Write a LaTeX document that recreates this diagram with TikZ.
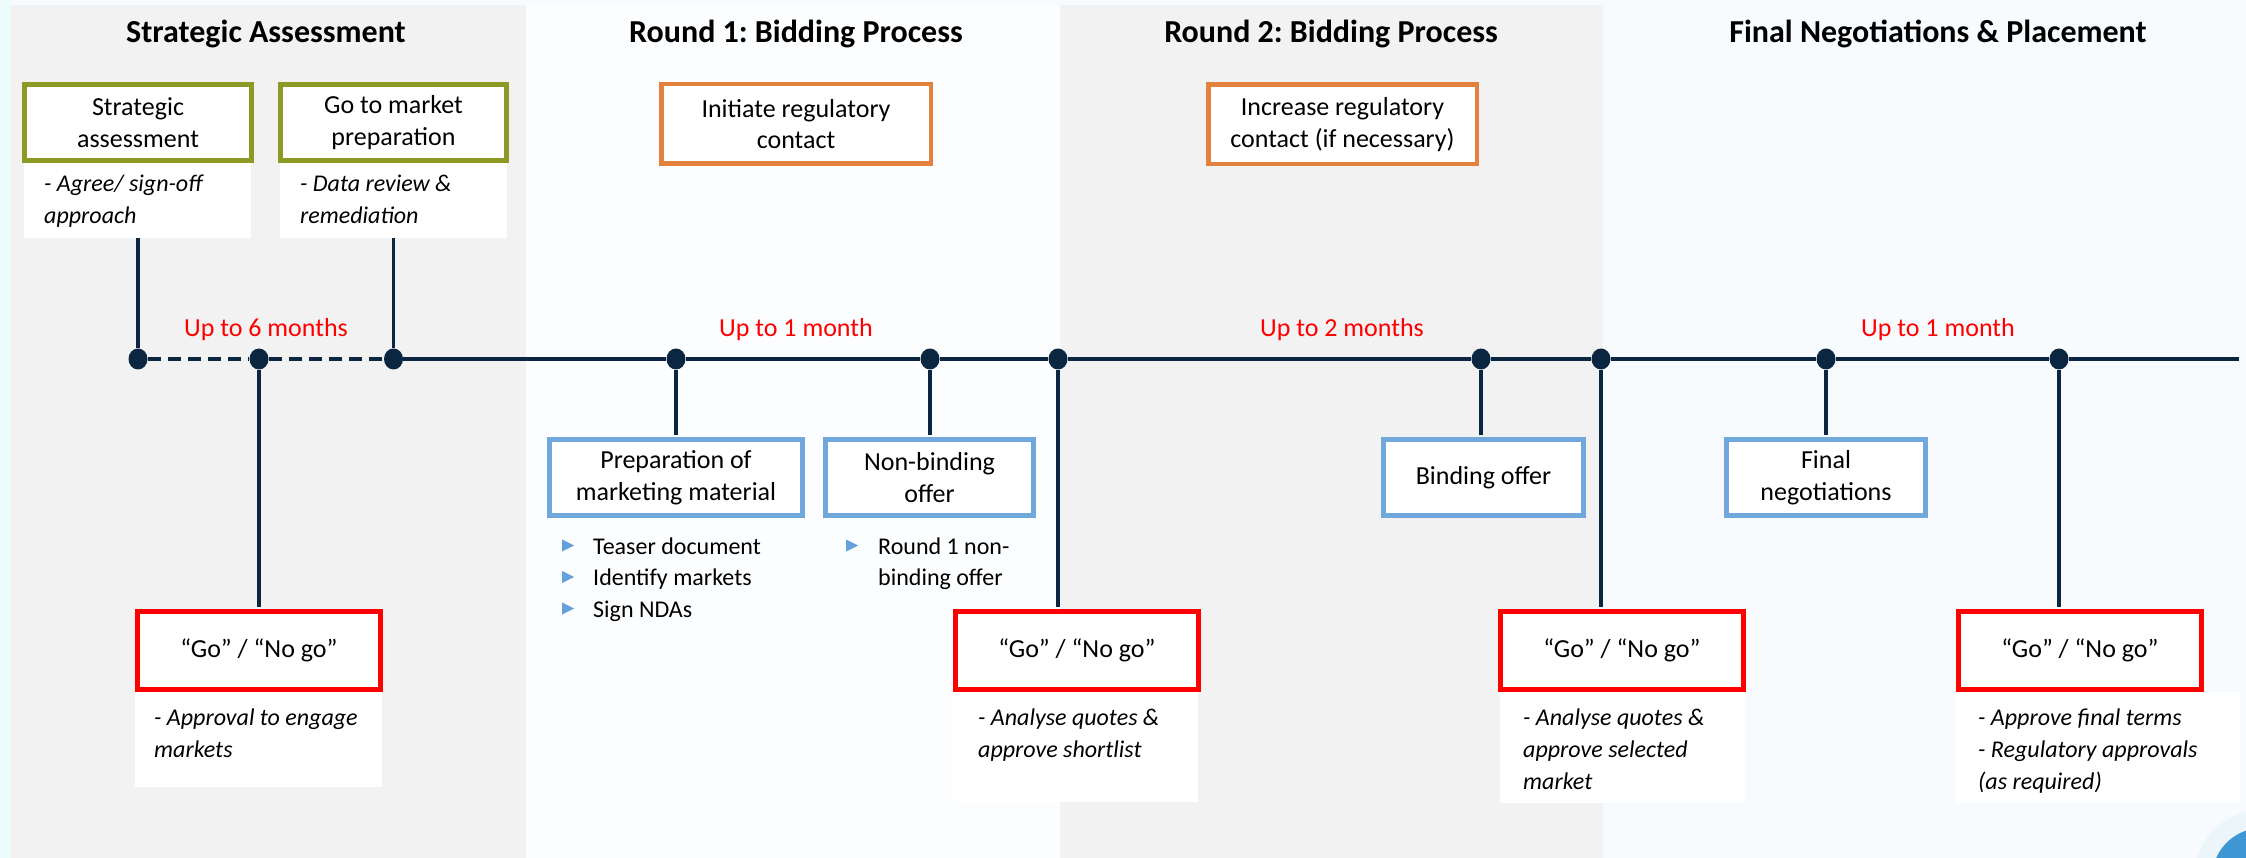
\documentclass[tikz,border=0pt]{standalone}
\usepackage{fontspec}
\setmainfont{Carlito}
\usetikzlibrary{calc}
\frenchspacing

\definecolor{navy}{RGB}{10,38,64}
\definecolor{olivec}{RGB}{140,154,37}
\definecolor{orangec}{RGB}{226,130,60}
\definecolor{bluec}{RGB}{112,168,220}
\definecolor{bulletblue}{RGB}{100,160,220}
\definecolor{redc}{RGB}{255,0,0}
\definecolor{panelgray}{RGB}{242,242,242}
\definecolor{bgcol}{RGB}{248,251,253}
\definecolor{edgecyan}{RGB}{236,251,251}
\definecolor{blobblue}{RGB}{62,150,210}

\newcommand\titlefont{\fontsize{32pt}{38pt}\selectfont\bfseries}
\newcommand\boxfont{\fontsize{26pt}{31.5pt}\selectfont}
\newcommand\durfont{\fontsize{26pt}{31.5pt}\selectfont}
\newcommand\notefont{\fontsize{24pt}{32pt}\selectfont\itshape}
\newcommand\bulletfont{\fontsize{24pt}{31.5pt}\selectfont}

\tikzset{
  panel/.style={fill=panelgray, draw=none},
  phasetitle/.style={font=\titlefont, anchor=base, inner sep=0pt},
  stage/.style={draw, fill=white, align=center, font=\boxfont, inner sep=0pt},
  olivebox/.style={stage, draw=olivec, line width=5pt, minimum height=76pt},
  orangebox/.style={stage, draw=orangec, line width=4.5pt, minimum height=79.5pt},
  bluebox/.style={stage, draw=bluec, line width=5pt, minimum height=76pt},
  redbox/.style={stage, draw=redc, line width=5pt, minimum height=78pt, minimum width=243pt},
  notebg/.style={fill=white, draw=none, anchor=north west, inner sep=0pt},
  notetext/.style={anchor=base west, inner sep=0pt, font=\notefont},
  milestone/.style={ellipse, fill=navy, inner sep=0pt, minimum width=19pt, minimum height=21pt},
  link/.style={draw=navy, line width=3.8pt},
  duration/.style={text=redc, font=\durfont, anchor=base, inner sep=0pt},
  bullettext/.style={anchor=base west, inner sep=0pt, font=\bulletfont},
  bulletmark/.style={fill=bulletblue, draw=none}
}
\usetikzlibrary{shapes.geometric}

\begin{document}
\begin{tikzpicture}[x=1pt, y=-1pt]
  \useasboundingbox (0,0) rectangle (2246,858);

  % background and phase panels
  \fill[bgcol] (0,0) rectangle (2246,858);
  \fill[edgecyan] (0,0) rectangle (11,858);
  \fill[panel] (11,5) rectangle (526,858);
  \fill[white, opacity=0.6] (526,5) rectangle (1060,858);
  \fill[panel] (1060,5) rectangle (1603,858);

  % corner ornament
  \begin{scope}
    \clip (0,0) rectangle (2246,858);
    \fill[blobblue!20, opacity=0.35] (2262,878) circle (68pt);
    \fill[blobblue] (2262,878) circle (50pt);
  \end{scope}

  % phase titles
  \node[phasetitle] (tSA) at (266,43) {Strategic Assessment};
  \node[phasetitle] (tR1) at (796,43) {Round 1: Bidding Process};
  \node[phasetitle] (tR2) at (1331,43) {Round 2: Bidding Process};
  \node[phasetitle] (tFN) at (1938,43) {Final Negotiations \& Placement};

  % white note panels under the boxes
  \node[notebg, minimum width=227pt, minimum height=75pt] (nSA) at (24,163) {};
  \node[notebg, minimum width=227pt, minimum height=75pt] (nGTM) at (280,163) {};
  \node[notebg, minimum width=247pt, minimum height=95pt] (nR1) at (135,692) {};
  \node[notebg, minimum width=245pt, minimum height=110pt] (nR2) at (953,692) {};
  \node[notebg, minimum width=245pt, minimum height=111pt] (nR3) at (1500,692) {};
  \node[notebg, minimum width=284pt, minimum height=111pt] (nR4) at (1956,692) {};

  % stage boxes
  \node[olivebox, minimum width=227pt] (sa) at (138,122.5) {Strategic\\assessment};
  \node[olivebox, minimum width=226pt] (gtm) at (393.5,122.5) {Go to market\\preparation};
  \node[orangebox, minimum width=269.5pt] (reg1) at (796,124) {Initiate regulatory\\contact};
  \node[orangebox, minimum width=268.5pt] (reg2) at (1342.5,124.5) {Increase regulatory\\contact (if necessary)};
  \node[bluebox, minimum width=253pt] (prep) at (676,477.5) {Preparation of\\marketing material};
  \node[bluebox, minimum width=208pt] (nbo) at (929.5,477.5) {Non-binding\\offer};
  \node[bluebox, minimum width=200pt] (bo) at (1483.5,477.5) {Binding offer};
  \node[bluebox, minimum width=199pt] (fneg) at (1826,477.5) {Final\\negotiations};
  \node[redbox] (g1) at (259,650.5) {“Go” / “No go”};
  \node[redbox] (g2) at (1077,650.5) {“Go” / “No go”};
  \node[redbox] (g3) at (1622,650.5) {“Go” / “No go”};
  \node[redbox] (g4) at (2080,650.5) {“Go” / “No go”};

  % milestones on the timeline
  \node[milestone] (d1) at (138,359) {};
  \node[milestone] (d2) at (259,359) {};
  \node[milestone] (d3) at (393.5,359) {};
  \node[milestone] (d4) at (676,359) {};
  \node[milestone] (d5) at (930,359) {};
  \node[milestone] (d6) at (1058,359) {};
  \node[milestone] (d7) at (1481,359) {};
  \node[milestone] (d8) at (1601,359) {};
  \node[milestone] (d9) at (1826,359) {};
  \node[milestone] (d10) at (2059,359) {};
  \coordinate (tend) at (2239,359);

  % timeline
  \draw[link, dash pattern=on 13pt off 7pt] (d1) -- (d2) -- (d3);
  \draw[link] (d3) -- (d4) -- (d5) -- (d6) -- (d7) -- (d8) -- (d9) -- (d10) -- (tend);

  % connectors from milestones to boxes
  \draw[link] (d1) -- (d1 |- nSA.south);
  \draw[link] (d3) -- (d3 |- nGTM.south);
  \draw[link, shorten >=2.5pt] (d2) -- (d2 |- g1.north);
  \draw[link, shorten >=2.5pt] (d4) -- (d4 |- prep.north);
  \draw[link, shorten >=2.5pt] (d5) -- (d5 |- nbo.north);
  \draw[link, shorten >=2.5pt] (d6) -- (d6 |- g2.north);
  \draw[link, shorten >=2.5pt] (d7) -- (d7 |- bo.north);
  \draw[link, shorten >=2.5pt] (d8) -- (d8 |- g3.north);
  \draw[link, shorten >=2.5pt] (d9) -- (d9 |- fneg.north);
  \draw[link, shorten >=2.5pt] (d10) -- (d10 |- g4.north);

  % durations
  \node[duration] (u1) at (266,337) {Up to 6 months};
  \node[duration] (u2) at (796,337) {Up to 1 month};
  \node[duration] (u3) at (1342,337) {Up to 2 months};
  \node[duration] (u4) at (1938,337) {Up to 1 month};

  % notes
  \node[notetext] (xSA) at (44,192) {\parbox[t]{220pt}{- Agree/ sign-off\\approach}};
  \node[notetext] (xGTM) at (300,192) {\parbox[t]{220pt}{- Data review \&\\remediation}};
  \node[notetext] (xR1) at (154,725) {\parbox[t]{240pt}{- Approval to engage\\markets}};
  \node[notetext] (xR2) at (978,725) {\parbox[t]{240pt}{- Analyse quotes \&\\approve shortlist}};
  \node[notetext] (xR3) at (1523,725) {\parbox[t]{240pt}{- Analyse quotes \&\\approve selected\\market}};
  \node[notetext] (xR4) at (1978,725) {\parbox[t]{260pt}{- Approve final terms\\- Regulatory approvals\\(as required)}};

  % bullet lists
  \fill[bulletmark] (562,539.5) -- (574,545.5) -- (562,551.5) -- cycle;
  \fill[bulletmark] (562,571) -- (574,577) -- (562,583) -- cycle;
  \fill[bulletmark] (562,602.5) -- (574,608.5) -- (562,614.5) -- cycle;
  \node[bullettext] (bl1) at (593,554) {\parbox[t]{200pt}{Teaser document\\Identify markets\\Sign NDAs}};
  \fill[bulletmark] (846,539.5) -- (858,545.5) -- (846,551.5) -- cycle;
  \node[bullettext] (bl2) at (878,554) {\parbox[t]{200pt}{Round 1 non-\\binding offer}};
\end{tikzpicture}
\end{document}
